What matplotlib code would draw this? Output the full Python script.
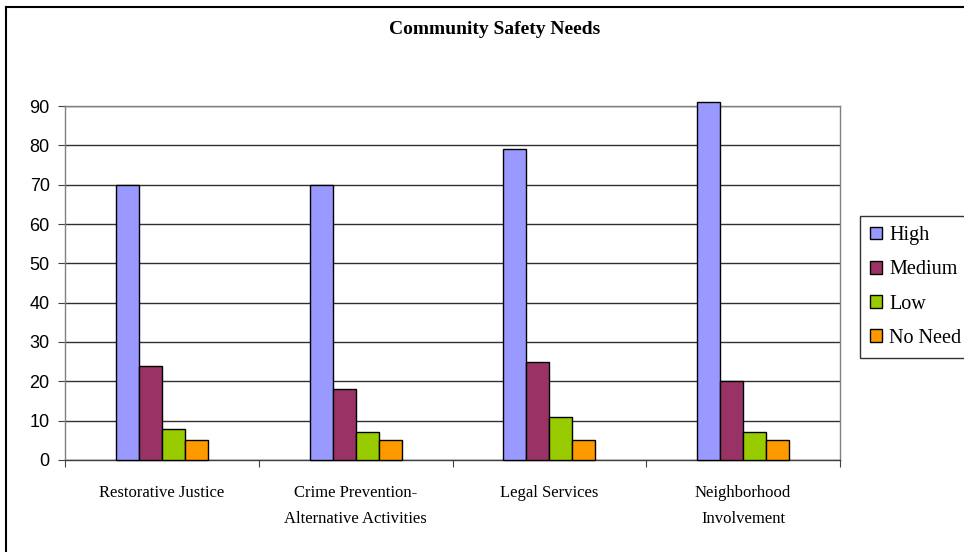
import matplotlib
matplotlib.use("Agg")
import matplotlib.pyplot as plt
import numpy as np
from matplotlib.lines import Line2D
from matplotlib.patches import Patch

categories = ["Restorative Justice", "Crime Prevention-\nAlternative Activities",
              "Legal Services", "Neighborhood\nInvolvement"]
series_names = ["High", "Medium", "Low", "No Need"]
high = [70, 70, 79, 91]
medium = [24, 18, 25, 20]
low = [8, 7, 11, 7]
no_need = [5, 5, 5, 5]
y_ticks = [0, 10, 20, 30, 40, 50, 60, 70, 80, 90]

series = [high, medium, low, no_need]
colors = ["#9999FF", "#993366", "#99CC00", "#FF9900"]

fig = plt.figure(figsize=(9.64, 5.52), dpi=100)
ax = fig.add_axes([65/964, 1-460/552, 775/964, 354/552])

n = len(categories)
x = np.arange(n)
bw = 0.119
offsets = (np.arange(4) - 1.5) * bw
for i, (vals, c) in enumerate(zip(series, colors)):
    ax.bar(x + offsets[i], vals, width=bw, color=c, edgecolor="black",
           linewidth=1.0, zorder=3, clip_on=False, label=series_names[i])

ax.set_xlim(-0.5, n - 0.5)
ax.set_ylim(0, 90)
ax.set_yticks(y_ticks)
ax.yaxis.grid(True, color="#303030", linewidth=1.0, zorder=0)
ax.set_axisbelow(True)

for s in ["left", "right", "top"]:
    ax.spines[s].set_color("#808080")
    ax.spines[s].set_linewidth(1.0)
ax.spines["bottom"].set_color("#404040")
ax.spines["bottom"].set_linewidth(1.0)

ax.set_xticks(np.arange(n + 1) - 0.5)
ax.set_xticklabels([])
ax.set_xticks(x, minor=True)
ax.set_xticklabels(categories, minor=True, family="Liberation Serif",
                   fontsize=12, linespacing=1.85)
ax.tick_params(axis="x", which="major", length=5, color="#404040", direction="out")
ax.tick_params(axis="x", which="minor", length=0, pad=18)
ax.tick_params(axis="y", length=5, color="#404040", direction="out", pad=6)
for lab in ax.get_yticklabels():
    lab.set_family("Liberation Sans")
    lab.set_fontsize(13)

fig.text(495/964, 1-29/552, "Community Safety Needs", ha="center", va="center",
         family="Liberation Serif", fontweight="bold", fontsize=14)

handles = [Patch(facecolor=c, edgecolor="black", linewidth=1.0) for c in colors]
leg = fig.legend(handles, series_names, loc="upper left",
                 bbox_to_anchor=(860/964, 1-216/552),
                 prop={"family": "Liberation Serif", "size": 14.5},
                 frameon=True, fancybox=False, edgecolor="black",
                 handlelength=0.6, handleheight=0.6, handletextpad=0.35,
                 labelspacing=0.76, borderpad=0.5, borderaxespad=0)
leg.get_frame().set_linewidth(1.0)

fig.add_artist(Line2D([6/964, 1], [1-7/552, 1-7/552], color="black", linewidth=1.5,
                      transform=fig.transFigure))
fig.add_artist(Line2D([6/964, 6/964], [0, 1-7/552], color="black", linewidth=1.5,
                      transform=fig.transFigure))

fig.savefig("out.png", dpi=100)
